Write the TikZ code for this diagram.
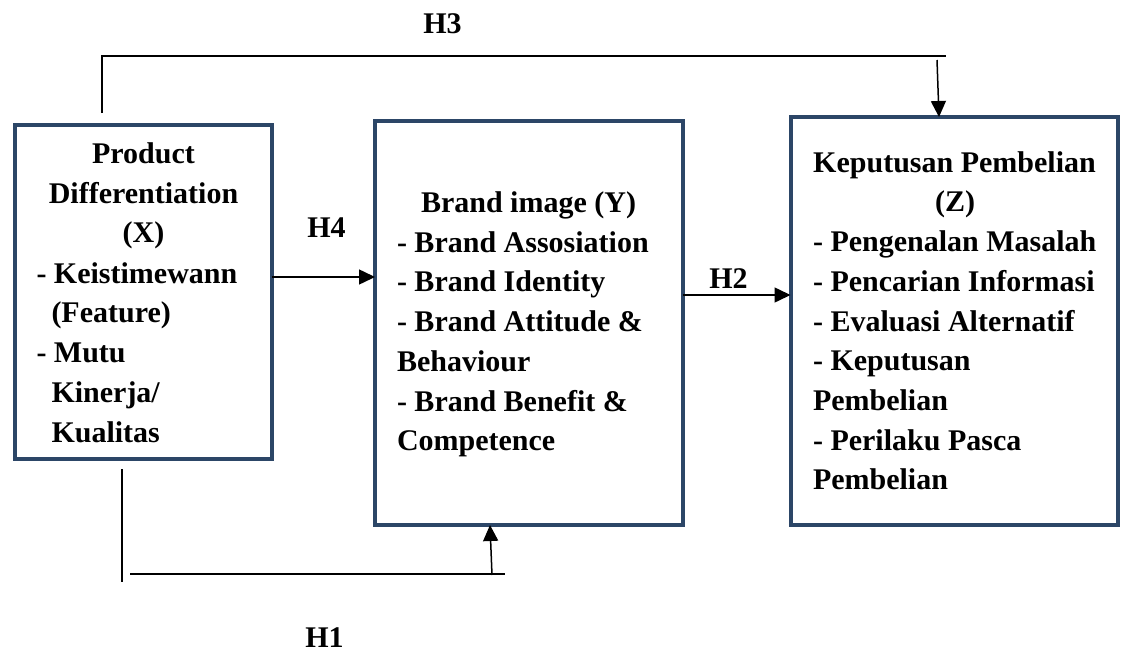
\documentclass[tikz,border=0pt]{standalone}
\usepackage{fontspec}
\setmainfont{Liberation Serif}
\usetikzlibrary{arrows.meta}
\definecolor{boxblue}{RGB}{44,70,103}
\tikzset{
  box/.style={draw=boxblue, line width=4pt, rectangle, inner sep=0pt, outer sep=0pt},
  txt/.style={inner sep=0pt, outer sep=0pt, font=\fontsize{30}{36}\selectfont\bfseries},
  lt/.style={txt, anchor=base west},
  ct/.style={txt, anchor=base},
  conn/.style={draw=black, line width=1.5pt},
  arr/.style={conn, -{Triangle[length=16pt,width=15pt]}}
}
\begin{document}
\begin{tikzpicture}[x=1pt,y=-1pt]
\useasboundingbox (0,0) rectangle (1121,653);
% boxes
\node[box, minimum width=257pt, minimum height=334pt] (X) at (143,292) {};
\node[box, minimum width=307.5pt, minimum height=404pt] (Y) at (528.75,323) {};
\node[box, minimum width=327.5pt, minimum height=408pt] (Z) at (954.25,321) {};
% box X text
\node[ct] (x1) at (143.5,163) {Product};
\node[ct] (x2) at (143.5,203) {Differentiation};
\node[ct] (x3) at (143.5,242) {(X)};
\node[lt] (x4) at (36.5,283) {- Keistimewann};
\node[lt] (x5) at (51.5,322) {(Feature)};
\node[lt] (x6) at (36.5,362) {- Mutu};
\node[lt] (x7) at (51.5,402) {Kinerja/};
\node[lt] (x8) at (51.5,442) {Kualitas};
% box Y text
\node[ct] (y1) at (528.5,212) {Brand image (Y)};
\node[lt] (y2) at (397,252) {- Brand Assosiation};
\node[lt] (y3) at (397,291.5) {- Brand Identity};
\node[lt] (y4) at (397,331) {- Brand Attitude \&};
\node[lt] (y5) at (397,371) {Behaviour};
\node[lt] (y6) at (397,411) {- Brand Benefit \&};
\node[lt] (y7) at (397,450.5) {Competence};
% box Z text
\node[ct] (z1) at (954.5,172) {Keputusan Pembelian};
\node[ct] (z2) at (955,211.5) {(Z)};
\node[lt] (z3) at (813,251) {- Pengenalan Masalah};
\node[lt] (z4) at (813,291) {- Pencarian Informasi};
\node[lt] (z5) at (813,331) {- Evaluasi Alternatif};
\node[lt] (z6) at (813,370) {- Keputusan};
\node[lt] (z7) at (813,410) {Pembelian};
\node[lt] (z8) at (813,450) {- Perilaku Pasca};
\node[lt] (z9) at (813,489) {Pembelian};
% labels
\node[ct] (lh3) at (442.5,33) {H3};
\node[ct] (lh4) at (326.5,237) {H4};
\node[ct] (lh2) at (728.5,288) {H2};
\node[ct] (lh1) at (324.5,647) {H1};
% connector coordinates
\coordinate (h4) at (0,277);
\coordinate (h2) at (0,295);
\coordinate (h3a) at (102,113);
\coordinate (h3b) at (102,56);
\coordinate (h3c) at (946,56);
\coordinate (h3s) at (937,60);
\coordinate (h3e) at (939,0);
\coordinate (h1a) at (122,469);
\coordinate (h1b) at (122,582);
\coordinate (h1c) at (130,574);
\coordinate (h1d) at (505,574);
\coordinate (h1s) at (492,575);
\coordinate (h1e) at (490,0);
% connectors
\draw[arr] (X.east |- h4) -- (Y.west |- h4);
\draw[arr] (Y.east |- h2) -- (Z.west |- h2);
\draw[conn] (h3a) -- (h3b) -- (h3c);
\draw[arr] (h3s) -- (h3e |- Z.north);
\draw[conn] (h1a) -- (h1b);
\draw[conn] (h1c) -- (h1d);
\draw[arr] (h1s) -- (h1e |- Y.south);
\end{tikzpicture}
\end{document}
